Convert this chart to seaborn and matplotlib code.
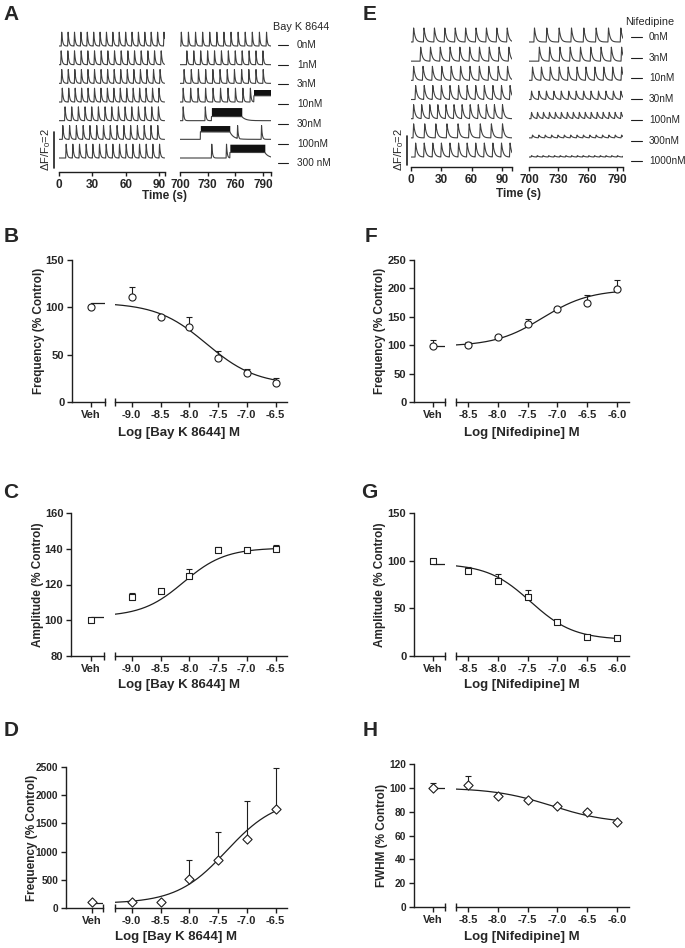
import numpy as np
import pandas as pd
import seaborn as sns
import matplotlib.pyplot as plt

# ── Trace data, panel A (Bay K 8644): first peak (s), period (s), number of peaks ──
bay_rows         = ["0nM", "1nM", "3nM", "10nM", "30nM", "100nM", "300 nM"]
bay_left_first   = [2.0, 1.5, 2.0, 2.5, 5.0, 3.0, 6.0]
bay_left_period  = [5.75, 6.0, 5.9, 5.8, 6.0, 6.1, 6.0]
bay_left_count   = [17, 16, 16, 16, 15, 15, 15]
bay_right_first  = [701, 707, 704, 703, 703, 762, 734]
bay_right_period = [7.7, 7.5, 7.8, 8.1, 24.0, 26.0, 16.0]
bay_right_count  = [13, 12, 12, 10, 2, 2, 2]
bay_plateau      = [None, None, None, (780, 800), (734, 767), (722, 754), (754, 792)]
bay_plateau_band = [None, None, None, (0.45, 0.9), (0.3, 0.95), (0.55, 1.0), (0.4, 1.0)]

# ── Trace data, panel E (Nifedipine) ──
nif_rows         = ["0nM", "3nM", "10nM", "30nM", "100nM", "300nM", "1000nM"]
nif_left_first   = [2, 9, 2, 4, 2, 2, 4]
nif_left_period  = [10.3, 9.7, 9.3, 8.5, 8.0, 11.0, 8.5]
nif_left_count   = [10, 10, 11, 12, 12, 9, 12]
nif_right_first  = [705, 710, 703, 702, 702, 703, 702]
nif_right_period = [12.6, 10.5, 9.1, 7.6, 6.1, 6.5, 5.85]
nif_right_count  = [8, 9, 11, 13, 16, 15, 17]
nif_right_amp    = [1.0, 1.0, 0.95, 0.6, 0.45, 0.2, 0.1]

# ── Concentration-response data ──
bay_logc = [-9.0, -8.5, -8.0, -7.5, -7.0, -6.5]
nif_logc = [-8.5, -8.0, -7.5, -7.0, -6.5, -6.0]
bay_ticks = ["-9.0", "-8.5", "-8.0", "-7.5", "-7.0", "-6.5"]
nif_ticks = ["-8.5", "-8.0", "-7.5", "-7.0", "-6.5", "-6.0"]

b_veh, b_veh_err = 100, 0
b_mean = [111, 89.5, 79, 46, 31, 20.5]
b_err  = [10, 2.5, 10.5, 8, 4, 5]
c_veh, c_veh_err = 100, 0
c_mean = [112.8, 116.5, 124.8, 139.3, 139.3, 139.7]
c_err  = [2.6, 1.0, 3.9, 1.7, 1.2, 2.6]
d_veh, d_veh_err = 100, 0
d_mean = [100, 107, 509, 851, 1223, 1755]
d_err  = [0, 0, 342, 502, 680, 722]
f_veh, f_veh_err = 99, 11
f_mean = [100.4, 114, 137, 163, 175, 198.4]
f_err  = [5.6, 2, 10, 4, 13, 15.6]
g_veh, g_veh_err = 100, 0
g_mean = [89.5, 79, 62.2, 35.3, 20.3, 19.2]
g_err  = [4.2, 6.7, 7, 1.2, 1.2, 1.3]
h_veh, h_veh_err = 100, 4.3
h_mean = [102.4, 93.4, 89.5, 85, 80, 71.3]
h_err  = [7.8, 1.6, 1.5, 1.5, 1.0, 1.0]

# fitted curves: (left plateau, right plateau, logEC50, Hill slope)
b_fit = (105, 18, -7.7, 1.0)
c_fit = (102, 140.5, -8.1, 1.2)
d_fit = (80, 1950, -7.35, 1.0)
f_fit = (98, 198, -7.25, 1.1)
g_fit = (97, 17, -7.45, 1.2)
h_fit = (100, 70, -7.1, 0.9)

# ── Style ──
sns.set_theme(style="ticks")
plt.rcParams['font.family'] = ['Liberation Sans', 'DejaVu Sans']
plt.rcParams['mathtext.fontset'] = 'custom'
plt.rcParams['mathtext.rm'] = 'Liberation Sans'
plt.rcParams['mathtext.default'] = 'regular'
INK = "#1e1e1e"
TRACE = "#404040"

W, H = 685, 948
fig = plt.figure(figsize=(W / 100, H / 100), dpi=100)


def px_rect(x0, y0, x1, y1):
    return [x0 / W, 1 - y1 / H, (x1 - x0) / W, (y1 - y0) / H]


def fx(x):
    return x / W


def fy(y):
    return 1 - y / H


def spike_train(t, first, period, count, amp, rise, tau):
    y = np.zeros_like(t)
    for t0 in first + period * np.arange(count):
        dt = t - t0
        up = (dt >= 0) & (dt < rise)
        dn = dt >= rise
        y[up] = np.maximum(y[up], amp * dt[up] / rise)
        y[dn] = np.maximum(y[dn], amp * np.exp(-(dt[dn] - rise) / tau))
    return y


def style_trace_axis(ax, xlim, ticks, ylim):
    ax.set_xlim(*xlim)
    ax.set_ylim(*ylim)
    ax.set_facecolor("none")
    for s in ["top", "right", "left"]:
        ax.spines[s].set_visible(False)
    ax.spines["bottom"].set_linewidth(1.0)
    ax.spines["bottom"].set_color(INK)
    ax.set_yticks([])
    ax.set_xticks(ticks)
    ax.set_xticklabels([str(v) for v in ticks], fontsize=8.5, fontweight="bold")
    ax.set_xticks([xlim[1]], minor=True)
    ax.tick_params(axis="x", which="both", length=3, width=1.0, color=INK, pad=2)
    ax.set_xlabel("")
    ax.set_ylabel("")


def dose_fit(x, p):
    left, right, ec50, hill = p
    return right + (left - right) / (1 + 10 ** ((x - ec50) * hill))


# ── Panel A: Bay K 8644 traces ──
ylimA = (-6.75, 0.964)
axAl = fig.add_axes(px_rect(59, 28, 164.6, 172))
axAr = fig.add_axes(px_rect(180, 28, 271, 172))
tl = np.arange(0, 95, 0.05)
tr = np.arange(700, 798.7, 0.05)
for i in range(len(bay_rows)):
    yl = spike_train(tl, bay_left_first[i], bay_left_period[i], bay_left_count[i], 0.74, 0.45, 0.8)
    sns.lineplot(x=tl, y=yl - i, ax=axAl, color=TRACE, lw=0.8, estimator=None, sort=False)
    yr = spike_train(tr, bay_right_first[i], bay_right_period[i], bay_right_count[i], 0.74, 0.45, 0.8)
    if bay_plateau[i] is not None:
        p0, p1 = bay_plateau[i]
        lo, hi = bay_plateau_band[i]
        inside = (tr >= p0) & (tr <= p1)
        after = tr > p1
        base = np.zeros_like(tr)
        base[inside] = lo * 0.74
        base[after] = lo * 0.74 * np.exp(-(tr[after] - p1) / 4.0)
        yr = np.maximum(yr, base)
        axAr.fill_between(tr[inside], lo * 0.74 - i, hi * 0.74 - i, color="#111111", lw=0)
    sns.lineplot(x=tr, y=yr - i, ax=axAr, color=TRACE, lw=0.8, estimator=None, sort=False)
style_trace_axis(axAl, (0, 95), [0, 30, 60, 90], ylimA)
style_trace_axis(axAr, (700, 798.7), [700, 730, 760, 790], ylimA)

fig.text(fx(273), fy(27), "Bay K 8644", fontsize=7.8, ha="left", va="center")
for i, lab in enumerate(bay_rows):
    yy = 45 + i * 19.7
    fig.add_artist(plt.Line2D([fx(278), fx(288)], [fy(yy), fy(yy)], color=INK, lw=0.8))
    fig.text(fx(297), fy(yy), lab, fontsize=7.2, ha="left", va="center")
fig.add_artist(plt.Line2D([fx(54), fx(54)], [fy(132), fy(168)], color=INK, lw=1.2))
fig.text(fx(46), fy(150), "ΔF/F$_0$=2", rotation=90, fontsize=8, ha="center", va="center")
fig.text(fx(165), fy(196), "Time (s)", fontsize=8.5, fontweight="bold", ha="center", va="center")

# ── Panel E: Nifedipine traces ──
ylimE = (-6.52, 0.885)
axEl = fig.add_axes(px_rect(411, 25, 512, 167))
axEr = fig.add_axes(px_rect(529, 25, 623, 167))
tl = np.arange(0, 100, 0.05)
tr = np.arange(700, 796, 0.05)
for i in range(len(nif_rows)):
    yl = spike_train(tl, nif_left_first[i], nif_left_period[i], nif_left_count[i], 0.73, 0.6, 1.6)
    sns.lineplot(x=tl, y=yl - i, ax=axEl, color=TRACE, lw=0.8, estimator=None, sort=False)
    yr = spike_train(tr, nif_right_first[i], nif_right_period[i], nif_right_count[i],
                     0.73 * nif_right_amp[i], 0.6, 1.6)
    sns.lineplot(x=tr, y=yr - i, ax=axEr, color=TRACE, lw=0.8, estimator=None, sort=False)
style_trace_axis(axEl, (0, 100), [0, 30, 60, 90], ylimE)
style_trace_axis(axEr, (700, 796), [700, 730, 760, 790], ylimE)

fig.text(fx(625), fy(22), "Nifedipine", fontsize=7.8, ha="left", va="center")
for i, lab in enumerate(nif_rows):
    yy = 37 + i * 20.7
    fig.add_artist(plt.Line2D([fx(631), fx(642)], [fy(yy), fy(yy)], color=INK, lw=0.8))
    fig.text(fx(649), fy(yy), lab, fontsize=7.2, ha="left", va="center")
fig.add_artist(plt.Line2D([fx(407), fx(407)], [fy(136), fy(165)], color=INK, lw=1.2))
fig.text(fx(399), fy(150), "ΔF/F$_0$=2", rotation=90, fontsize=8, ha="center", va="center")
fig.text(fx(518), fy(194), "Time (s)", fontsize=8.5, fontweight="bold", ha="center", va="center")


# ── Concentration-response panels ──
def dose_panel(axis_x, veh_x, veh_end, main_x0, main_x1, y_top, y_bot, main_xlim,
               ylim, yticks, logc, xticklabels, mean, err, veh_mean, veh_err, fit,
               marker, msize, ylabel, xlabel, ylabel_x, xlabel_y, ytick_fs=8):
    ax_v = fig.add_axes(px_rect(axis_x, y_top, veh_end, y_bot))
    ax_m = fig.add_axes(px_rect(main_x0, y_top, main_x1, y_bot))
    a = (veh_end - axis_x) / (veh_x - axis_x) - 1
    ax_v.set_xlim(-1, a)
    ax_m.set_xlim(*main_xlim)
    for ax in (ax_v, ax_m):
        ax.set_ylim(*ylim)
        ax.set_facecolor("none")
        ax.spines["top"].set_visible(False)
        ax.spines["right"].set_visible(False)
        ax.spines["bottom"].set_linewidth(1.0)
        ax.spines["left"].set_linewidth(1.0)
        ax.spines["bottom"].set_color(INK)
        ax.spines["left"].set_color(INK)
        ax.tick_params(which="major", length=3.5, width=1.0, color=INK, pad=2)
        ax.tick_params(which="minor", direction="inout", length=6, width=1.0, color=INK)
    ax_m.spines["left"].set_visible(False)
    ax_m.set_yticks([])
    ax_v.set_yticks(yticks)
    ax_v.set_yticklabels([str(v) for v in yticks], fontsize=ytick_fs, fontweight="bold")
    ax_v.set_xticks([0])
    ax_v.set_xticklabels(["Veh"], fontsize=8, fontweight="bold")
    ax_v.set_xticks([a], minor=True)
    ax_m.set_xticks(logc)
    ax_m.set_xticklabels(xticklabels, fontsize=8, fontweight="bold")
    ax_m.set_xticks([main_xlim[0]], minor=True)

    # fitted curve and vehicle line
    xs = np.linspace(main_xlim[0], logc[-1], 200)
    sns.lineplot(x=xs, y=dose_fit(xs, fit), ax=ax_m, color=INK, lw=0.9)
    sns.lineplot(x=[0, a], y=[fit[0], fit[0]], ax=ax_v, color=INK, lw=0.9)

    # error bars (upper only) then open markers
    ax_m.errorbar(logc, mean, yerr=[np.zeros(len(err)), err], fmt="none", ecolor=INK,
                  elinewidth=0.8, capsize=2.5, capthick=0.8, zorder=3)
    if veh_err > 0:
        ax_v.errorbar([0], [veh_mean], yerr=[[0], [veh_err]], fmt="none", ecolor=INK,
                      elinewidth=0.8, capsize=2.5, capthick=0.8, zorder=3)
    for ax, xv, yv in ((ax_m, logc, mean), (ax_v, [0], [veh_mean])):
        sns.scatterplot(x=xv, y=yv, ax=ax, marker=marker, s=msize, color="white",
                        edgecolor=INK, linewidth=0.8, zorder=4, clip_on=False)
        ax.set_xlabel("")
        ax.set_ylabel("")

    fig.text(fx(ylabel_x), fy((y_top + y_bot) / 2), ylabel, rotation=90, fontsize=8.5,
             fontweight="bold", ha="center", va="center")
    fig.text(fx((axis_x + main_x1) / 2), fy(xlabel_y), xlabel, fontsize=9.5,
             fontweight="bold", ha="center", va="center")


bay_xlabel = "Log [Bay K 8644] M"
nif_xlabel = "Log [Nifedipine] M"

dose_panel(72, 91, 105, 114.5, 287, 260, 402, (-9.3, -6.3), (0, 150), [0, 50, 100, 150],
           bay_logc, bay_ticks, b_mean, b_err, b_veh, b_veh_err, b_fit, "o", 26,
           "Frequency (% Control)", bay_xlabel, 39, 433)
dose_panel(71, 91, 104, 114.5, 287, 513, 656, (-9.3, -6.3), (80, 160), [80, 100, 120, 140, 160],
           bay_logc, bay_ticks, c_mean, c_err, c_veh, c_veh_err, c_fit, "s", 24,
           "Amplitude (% Control)", bay_xlabel, 38, 685)
dose_panel(66, 92, 103, 114.5, 287, 767, 908, (-9.3, -6.3), (0, 2500),
           [0, 500, 1000, 1500, 2000, 2500],
           bay_logc, bay_ticks, d_mean, d_err, d_veh, d_veh_err, d_fit, "D", 22,
           "Frequency (% Control)", bay_xlabel, 32, 937, ytick_fs=7.3)
dose_panel(414, 433, 445, 456, 629, 260, 402, (-8.7, -5.8), (0, 250), [0, 50, 100, 150, 200, 250],
           nif_logc, nif_ticks, f_mean, f_err, f_veh, f_veh_err, f_fit, "o", 26,
           "Frequency (% Control)", nif_xlabel, 380, 433)
dose_panel(414, 433, 445, 456, 629, 513, 656, (-8.7, -5.8), (0, 150), [0, 50, 100, 150],
           nif_logc, nif_ticks, g_mean, g_err, g_veh, g_veh_err, g_fit, "s", 24,
           "Amplitude (% Control)", nif_xlabel, 380, 685)
dose_panel(414, 433, 445, 456, 629, 764, 907, (-8.7, -5.8), (0, 120), [0, 20, 40, 60, 80, 100, 120],
           nif_logc, nif_ticks, h_mean, h_err, h_veh, h_veh_err, h_fit, "D", 22,
           "FWHM (% Control)", nif_xlabel, 382, 937, ytick_fs=7.3)

# ── Panel letters ──
for lab, x, y in [("A", 11, 15), ("B", 11, 237), ("C", 11, 492), ("D", 11, 730),
                  ("E", 370, 14), ("F", 371, 237), ("G", 369, 492), ("H", 370, 730)]:
    fig.text(fx(x), fy(y), lab, fontsize=15, fontweight="bold", ha="center", va="center")

fig.savefig("out.png", dpi=100)
